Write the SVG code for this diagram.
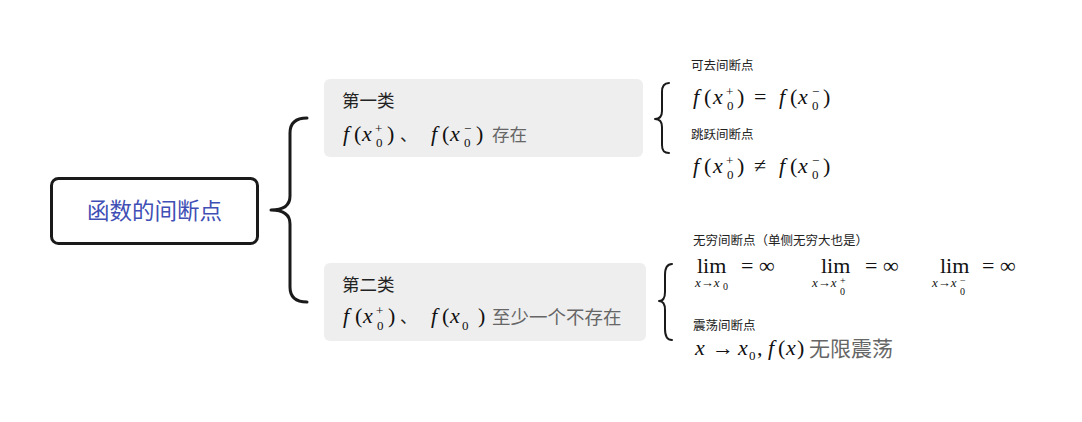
<svg xmlns="http://www.w3.org/2000/svg" width="1082" height="422" viewBox="0 0 1082 422">
<style>
.brace{fill:none;stroke:#1a1a1a;stroke-linecap:round;stroke-linejoin:round}
.card{fill:#eeeeee}
.cj{font-family:"Noto Sans CJK SC","Noto Sans",sans-serif;fill:#222}
.lbl{font-family:"Noto Sans CJK SC","Noto Sans",sans-serif;font-size:12.5px;fill:#222}
.m{font-family:"Liberation Serif","DejaVu Serif",serif;font-size:22px;fill:#111}
.i{font-style:italic}
.s{font-size:13px}
.ss{font-size:13px}
.t{font-size:10px}
.g{font-family:"Noto Sans CJK SC","Noto Sans",sans-serif;fill:#666}
</style>
<rect width="1082" height="422" fill="#ffffff"/>
<g id="connectors">
<path class="brace" stroke-width="3" d="M307,118 C296,118 290,123 290,133 L290,196 C290,205 284,210 271,210 C284,210 290,215 290,224 L290,287 C290,297 296,302 307,302"/>
<path class="brace" stroke-width="2" d="M669,83 C664,83 662,86 662,92 L662,111 C662,116 660,119 655,119 C660,119 662,122 662,127 L662,145 C662,151 664,153 669,153"/>
<path class="brace" stroke-width="2" d="M672,264 C667,264 665,268 665,275 L665,292 C665,298 663,301 659,301 C663,301 665,304 665,310 L665,329 C665,336 667,340 672,340"/>
</g>
<g id="root">
<rect x="51.5" y="178.5" width="206" height="65" rx="7" fill="#ffffff" stroke="#1a1a1a" stroke-width="3"/>
<text x="154.5" y="219" text-anchor="middle" font-family="'Noto Sans CJK SC','Noto Sans',sans-serif" font-size="22.5" fill="#3f4fb5">函数的间断点</text>
</g>
<g id="type1">
<rect class="card" x="324" y="79" width="319" height="78" rx="6"/>
<text class="cj" x="342" y="107" font-size="17.5">第一类</text>
<text class="m i" x="343" y="141">f</text>
<text class="m" x="354" y="141">(</text>
<text class="m i" x="362" y="141">x</text>
<text class="m s" x="375" y="133">+</text>
<text class="m s" x="376" y="147">0</text>
<text class="m" x="387" y="141">)</text>
<text class="cj" x="400" y="141" font-size="17">、</text>
<text class="m i" x="431" y="141">f</text>
<text class="m" x="442" y="141">(</text>
<text class="m i" x="450" y="141">x</text>
<text class="m s" x="464" y="133">−</text>
<text class="m s" x="464" y="147">0</text>
<text class="m" x="476" y="141">)</text>
<text class="g" x="492" y="141" font-size="17.5">存在</text>
</g>
<g id="type2">
<rect class="card" x="324" y="263" width="322" height="78" rx="6"/>
<text class="cj" x="342" y="291" font-size="17.5">第二类</text>
<text class="m i" x="343" y="323">f</text>
<text class="m" x="355" y="323">(</text>
<text class="m i" x="363" y="323">x</text>
<text class="m s" x="376" y="315">+</text>
<text class="m s" x="377" y="330">0</text>
<text class="m" x="388" y="323">)</text>
<text class="cj" x="400" y="323" font-size="17">、</text>
<text class="m i" x="431" y="323">f</text>
<text class="m" x="442" y="323">(</text>
<text class="m i" x="450" y="323">x</text>
<text class="m s" x="462" y="330">0</text>
<text class="m" x="478" y="323">)</text>
<text class="g" x="492" y="324" font-size="18.5">至少一个不存在</text>
</g>
<g id="removable">
<text class="lbl" x="691" y="70">可去间断点</text>
<text class="m i" x="693" y="104">f</text>
<text class="m" x="704" y="104">(</text>
<text class="m i" x="713" y="104">x</text>
<text class="m s" x="726" y="96">+</text>
<text class="m s" x="727" y="110">0</text>
<text class="m" x="737" y="104">)</text>
<text class="m" x="754" y="104">=</text>
<text class="m i" x="779" y="104">f</text>
<text class="m" x="790" y="104">(</text>
<text class="m i" x="798" y="104">x</text>
<text class="m s" x="812" y="96">−</text>
<text class="m s" x="812" y="110">0</text>
<text class="m" x="823" y="104">)</text>
</g>
<g id="jump">
<text class="lbl" x="691" y="139">跳跃间断点</text>
<text class="m i" x="693" y="173">f</text>
<text class="m" x="704" y="173">(</text>
<text class="m i" x="713" y="173">x</text>
<text class="m s" x="726" y="165">+</text>
<text class="m s" x="727" y="179">0</text>
<text class="m" x="737" y="173">)</text>
<text class="m" x="754" y="173">≠</text>
<text class="m i" x="779" y="173">f</text>
<text class="m" x="790" y="173">(</text>
<text class="m i" x="798" y="173">x</text>
<text class="m s" x="812" y="165">−</text>
<text class="m s" x="812" y="179">0</text>
<text class="m" x="823" y="173">)</text>
</g>
<g id="infinite">
<text class="lbl" x="693" y="245">无穷间断点（单侧无穷大也是）</text>
<text class="m" x="697" y="273">lim</text>
<text class="m" x="741" y="273">= ∞</text>
<text class="m ss" x="695" y="287"><tspan class="i">x</tspan>→<tspan class="i">x</tspan></text>
<text class="m t" x="723" y="290">0</text>
<text class="m" x="821" y="273">lim</text>
<text class="m" x="865" y="273">= ∞</text>
<text class="m ss" x="812" y="287"><tspan class="i">x</tspan>→<tspan class="i">x</tspan></text>
<text class="m t" x="840" y="284">+</text>
<text class="m t" x="840" y="295">0</text>
<text class="m" x="940" y="273">lim</text>
<text class="m" x="982" y="273">= ∞</text>
<text class="m ss" x="932" y="287"><tspan class="i">x</tspan>→<tspan class="i">x</tspan></text>
<text class="m t" x="960" y="284">−</text>
<text class="m t" x="960" y="295">0</text>
</g>
<g id="oscillating">
<text class="lbl" x="693" y="330">震荡间断点</text>
<text class="m i" x="695" y="355">x</text>
<text class="m" x="712" y="355">→</text>
<text class="m i" x="738" y="355">x</text>
<text class="m s" x="749" y="360">0</text>
<text class="m" x="757" y="355">,</text>
<text class="m i" x="768" y="355">f</text>
<text class="m" x="778" y="355">(</text>
<text class="m i" x="786" y="355">x</text>
<text class="m" x="797" y="355">)</text>
<text class="g" x="809" y="356" font-size="21">无限震荡</text>
</g>
</svg>
